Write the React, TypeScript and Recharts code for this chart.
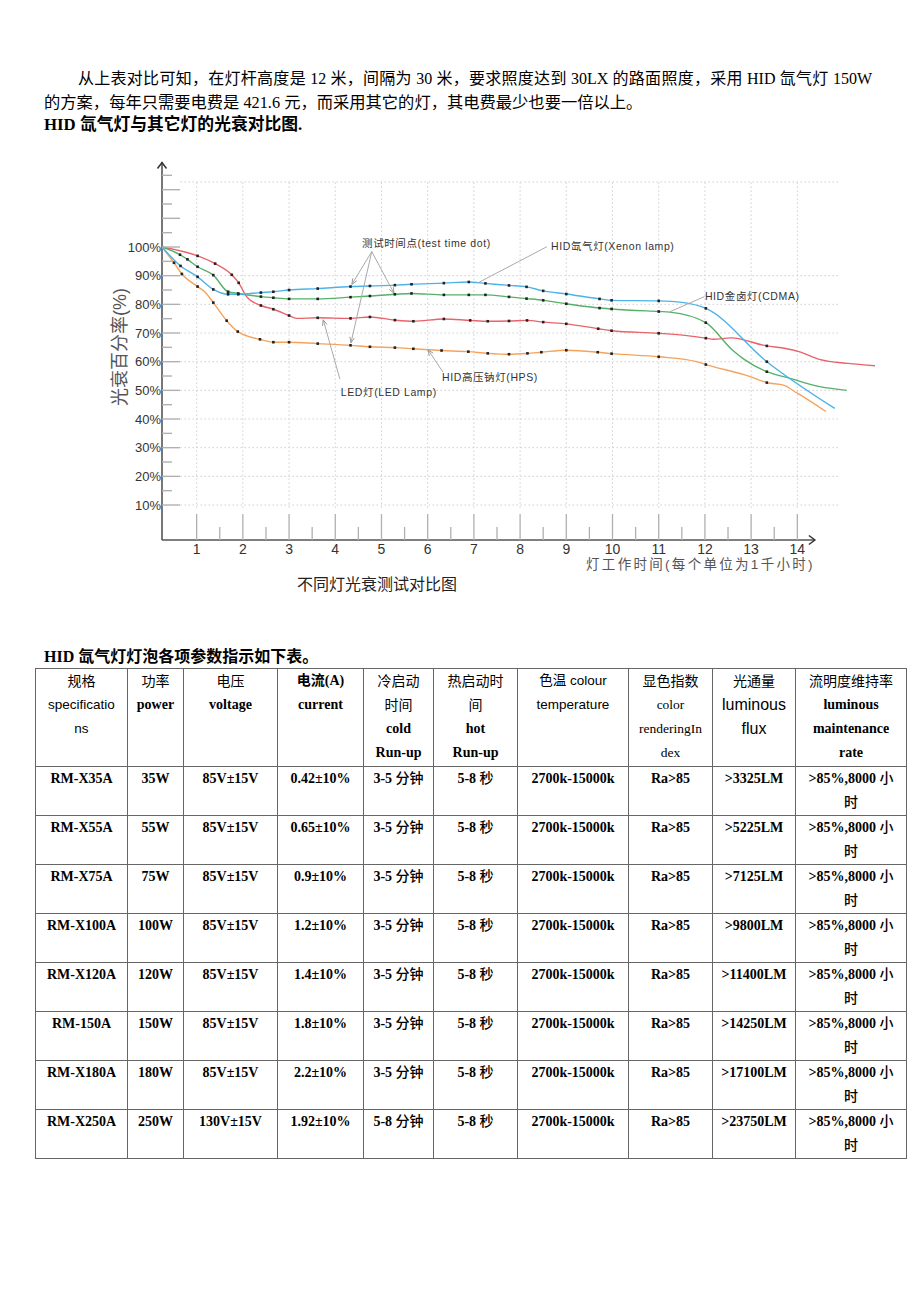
import React from 'react';
import { LineChart, Line, XAxis, YAxis, ReferenceLine, ReferenceDot } from 'recharts';

// [hours (x1000 h), lumen maintenance %, test-time dot 1/0]
const xenonPts = [
  [0.25, 100, 0], [0.65, 93.4, 1], [1.02, 89.6, 1], [1.36, 85.2, 1], [1.68, 83.5, 1], [1.9, 83.5, 1],
  [2.39, 84.1, 1], [2.66, 84.4, 1], [3.0, 85.0, 1], [3.62, 85.5, 1], [4.33, 86.2, 1], [4.75, 86.4, 1],
  [5.29, 86.7, 1], [5.65, 87.0, 1], [6.35, 87.4, 1], [6.89, 87.8, 1], [7.25, 87.3, 1], [7.76, 86.6, 1],
  [8.14, 86.1, 1], [8.5, 84.7, 1], [9.0, 83.6, 1], [9.72, 81.9, 1], [9.98, 81.4, 1], [11.0, 81.2, 1],
  [11.5, 80.7, 0], [12.02, 78.6, 1], [13.34, 60.0, 1], [14.81, 43.7, 0],
];
const cdmaPts = [
  [0.25, 100, 0], [0.64, 97.3, 1], [0.8, 95.7, 1], [1.02, 93.1, 1], [1.36, 90.2, 1], [1.68, 84.4, 1],
  [1.9, 83.8, 1], [2.39, 82.7, 1], [2.66, 82.3, 1], [3.0, 81.9, 1], [3.62, 81.9, 1], [4.33, 82.5, 1],
  [4.75, 82.9, 1], [5.29, 83.5, 1], [5.65, 83.8, 1], [6.35, 83.3, 1], [6.89, 83.3, 1], [7.25, 83.3, 1],
  [7.76, 82.6, 1], [8.14, 82.0, 1], [8.5, 81.4, 1], [9.0, 80.2, 1], [9.72, 78.7, 1], [9.98, 78.4, 1],
  [11.0, 77.5, 1], [11.24, 77.3, 0], [12.02, 73.6, 1], [12.6, 64.0, 0], [12.85, 60.8, 0],
  [13.34, 56.5, 1], [13.84, 54.2, 0], [14.49, 51.3, 0], [15.07, 50.0, 0],
];
const ledPts = [
  [0.25, 100, 0], [1.02, 96.9, 1], [1.4, 94.2, 1], [1.76, 90.3, 1], [1.91, 87.5, 1], [2.08, 82.7, 0],
  [2.39, 79.6, 1], [2.66, 78.3, 1], [3.0, 76.1, 1], [3.16, 75.1, 0], [3.62, 75.3, 1], [4.33, 75.1, 1],
  [4.75, 75.6, 1], [5.29, 74.5, 1], [5.69, 74.1, 1], [6.35, 74.9, 1], [6.92, 74.4, 1], [7.3, 74.1, 1],
  [7.76, 74.2, 1], [8.15, 74.4, 1], [8.5, 73.8, 1], [9.0, 73.2, 1], [9.69, 71.5, 1], [9.98, 70.8, 1],
  [11.0, 69.9, 1], [11.61, 69.1, 0], [12.02, 68.2, 1], [12.18, 67.8, 0], [12.56, 68.3, 0],
  [13.34, 65.5, 1], [13.75, 64.6, 0], [14.05, 63.4, 0], [14.5, 60.7, 0], [15.1, 59.4, 0], [15.68, 58.6, 0],
];
const hpsPts = [
  [0.25, 100, 0], [0.51, 94.5, 1], [0.68, 90.6, 1], [1.02, 86.2, 1], [1.18, 84.3, 0], [1.36, 80.6, 1],
  [1.65, 74.3, 1], [1.89, 70.5, 1], [2.1, 68.9, 0], [2.37, 67.8, 1], [2.66, 66.8, 1], [3.0, 66.8, 1],
  [3.62, 66.3, 1], [4.33, 65.7, 1], [4.75, 65.2, 1], [5.29, 64.9, 1], [5.69, 64.5, 1], [6.3, 63.9, 1],
  [6.88, 63.5, 1], [7.3, 62.9, 1], [7.76, 62.6, 1], [8.16, 62.9, 1], [8.46, 63.3, 1], [9.0, 64.0, 1],
  [9.68, 63.3, 1], [9.98, 62.8, 1], [11.0, 61.7, 1], [11.82, 60.0, 0], [12.02, 59.0, 1],
  [12.98, 54.8, 0], [13.34, 52.7, 1], [13.7, 51.8, 0], [14.0, 49.0, 0], [14.62, 42.6, 0],
];

const xTicks = [1, 1.5, 2, 2.5, 3, 3.5, 4, 4.5, 5, 5.5, 6, 6.5, 7, 7.5, 8, 8.5, 9, 9.5, 10, 10.5, 11, 11.5, 12, 12.5, 13, 13.5, 14];
const yTicks = [10, 15, 20, 25, 30, 35, 40, 45, 50, 55, 60, 65, 70, 75, 80, 85, 90, 95, 100, 105, 110, 115, 120, 125];
const gridPct = [10, 20, 30, 40, 50, 60, 70, 80, 90, 122.7];
const gridHours = [1, 2, 3, 4, 5, 6, 7, 8, 9, 10, 11, 12, 13, 14];

// annotation texts: [text, hours, pct]
const notes: [string, number, number][] = [
  ['测试时间点(test time dot)', 4.58, 101.4],
  ['HID氙气灯(Xenon lamp)', 8.67, 100.4],
  ['HID金卤灯(CDMA)', 12.0, 82.7],
  ['HID高压钠灯(HPS)', 6.31, 54.7],
  ['LED灯(LED Lamp)', 4.12, 49.3],
];
// pointer lines: [h1, p1, h2, p2, arrowhead]
const pointers: [number, number, number, number, number][] = [
  [4.79, 98.4, 4.36, 87.0, 1],
  [4.79, 98.4, 4.34, 66.6, 1],
  [4.79, 98.4, 5.27, 83.9, 1],
  [8.58, 100.1, 7.1, 87.6, 0],
  [11.99, 82.7, 11.24, 77.4, 0],
  [6.33, 56.4, 6.01, 64.1, 1],
  [4.1, 53.9, 3.74, 74.6, 1],
];

const models = ['RM-X35A', 'RM-X55A', 'RM-X75A', 'RM-X100A', 'RM-X120A', 'RM-150A', 'RM-X180A', 'RM-X250A'];
const powers = ['35W', '55W', '75W', '100W', '120W', '150W', '180W', '250W'];
const voltages = ['85V±15V', '85V±15V', '85V±15V', '85V±15V', '85V±15V', '85V±15V', '85V±15V', '130V±15V'];
const currents = ['0.42±10%', '0.65±10%', '0.9±10%', '1.2±10%', '1.4±10%', '1.8±10%', '2.2±10%', '1.92±10%'];
const coldRunUp = ['3-5 分钟', '3-5 分钟', '3-5 分钟', '3-5 分钟', '3-5 分钟', '3-5 分钟', '3-5 分钟', '5-8 分钟'];
const fluxes = ['>3325LM', '>5225LM', '>7125LM', '>9800LM', '>11400LM', '>14250LM', '>17100LM', '>23750LM'];

const SERIF = "'Liberation Serif', 'Times New Roman', 'Noto Sans CJK SC', serif";
const SANS = "'Liberation Sans', Arial, 'Noto Sans CJK SC', sans-serif";

const toRows = (pts: number[][]) => pts.map(([h, p, d]) => ({ h, p, d }));

const colWidths = [92, 56, 94, 86, 70, 84, 111, 84, 83, 111];

const headStyles: Record<string, React.CSSProperties> = {
  cjk: { fontFamily: SANS, fontSize: 14 },
  sans: { fontFamily: SANS, fontSize: 13.5 },
  bold: { fontFamily: SERIF, fontSize: 14, fontWeight: 'bold' },
  serif: { fontFamily: SERIF, fontSize: 13.5 },
  big: { fontFamily: SANS, fontSize: 16 },
};
const headers: [string, string][][] = [
  [['规格', 'cjk'], ['specificatio', 'sans'], ['ns', 'sans']],
  [['功率', 'cjk'], ['power', 'bold']],
  [['电压', 'cjk'], ['voltage', 'bold']],
  [['电流(A)', 'bold'], ['current', 'bold']],
  [['冷启动', 'cjk'], ['时间', 'cjk'], ['cold', 'bold'], ['Run-up', 'bold']],
  [['热启动时', 'cjk'], ['间', 'cjk'], ['hot', 'bold'], ['Run-up', 'bold']],
  [['色温 colour', 'sans'], ['temperature', 'sans']],
  [['显色指数', 'cjk'], ['color', 'serif'], ['renderingIn', 'serif'], ['dex', 'serif']],
  [['光通量', 'cjk'], ['luminous', 'big'], ['flux', 'big']],
  [['流明度维持率', 'cjk'], ['luminous', 'bold'], ['maintenance', 'bold'], ['rate', 'bold']],
];

// CJK characters in the bold data cells are set in a lighter weight
const mixed = (s: string) =>
  s.split(/([\u4e00-\u9fff]+)/).map((part, i) =>
    /[\u4e00-\u9fff]/.test(part) ? (
      <span key={i} style={{ fontWeight: 500 }}>
        {part}
      </span>
    ) : (
      part
    ),
  );

const renderDot = (props: any) => {
  const { cx, cy, payload, index } = props;
  if (!payload.d) return <g key={`n${index}`} />;
  return <rect key={`d${index}`} x={cx - 1.3} y={cy - 1.3} width={2.6} height={2.6} fill="#222" />;
};

const YTick = (props: any) => {
  const { x, y, payload } = props;
  const v = payload.value;
  const major = v % 10 === 0;
  return (
    <g>
      <line x1={x} x2={x + (major ? 18 : 10)} y1={y} y2={y} stroke="#b0b0b0" strokeWidth={1.4} />
      {major && v <= 100 && (
        <text x={x - 1} y={y} dy={4.5} textAnchor="end" fontSize={13} fontFamily={SANS} fill="#333">
          {v}%
        </text>
      )}
    </g>
  );
};

const XTick = (props: any) => {
  const { x, y, payload } = props;
  const v = payload.value;
  const major = Number.isInteger(v);
  return (
    <g>
      <line x1={x} x2={x} y1={y} y2={y - (major ? 26 : 13)} stroke="#b0b0b0" strokeWidth={1.3} />
      {major && (
        <text x={x} y={y + 14} textAnchor="middle" fontSize={14} fontFamily={SANS} fill="#333">
          {v}
        </text>
      )}
    </g>
  );
};

const axisArrow = (dir: 'up' | 'right') => (p: any) => {
  const { x1, y1, x2, y2 } = p;
  const head =
    dir === 'up'
      ? `M${x2 - 4.5},${y2 + 6} L${x2},${y2} L${x2 + 4.5},${y2 + 6}`
      : `M${x2 - 6},${y2 - 4.5} L${x2},${y2} L${x2 - 6},${y2 + 4.5}`;
  return (
    <g>
      <line x1={x1} y1={y1} x2={x2} y2={y2} stroke="#555" strokeWidth={1.6} />
      <path d={head} fill="none" stroke="#333" strokeWidth={1.5} />
    </g>
  );
};

const pointerShape = (arrow: number) => (p: any) => {
  const { x1, y1, x2, y2 } = p;
  const ang = Math.atan2(y2 - y1, x2 - x1);
  const a1 = ang + Math.PI - 0.4;
  const a2 = ang + Math.PI + 0.4;
  const L = 6;
  return (
    <g>
      <line x1={x1} y1={y1} x2={x2} y2={y2} stroke="#aaa" strokeWidth={1} />
      {arrow ? (
        <path
          d={`M${x2 + L * Math.cos(a1)},${y2 + L * Math.sin(a1)} L${x2},${y2} L${x2 + L * Math.cos(a2)},${y2 + L * Math.sin(a2)}`}
          fill="none"
          stroke="#999"
          strokeWidth={1}
        />
      ) : null}
    </g>
  );
};

const textShape = (text: string, opts: any) => (p: any) => (
  <text
    x={p.cx}
    y={p.cy}
    dy="0.35em"
    textAnchor={opts.anchor || 'start'}
    fontSize={opts.size}
    letterSpacing={opts.spacing || 0}
    fontFamily={SANS}
    fill={opts.fill || '#444'}
    transform={opts.rotate ? `rotate(-90 ${p.cx} ${p.cy})` : undefined}
  >
    {text}
  </text>
);

function DecayChart() {
  return (
    <LineChart width={920} height={470} margin={{ top: 21, right: 39.5, bottom: 40, left: 102 }}>
      <XAxis
        type="number"
        dataKey="h"
        domain={[0.25, 15.8]}
        ticks={xTicks}
        interval={0}
        allowDataOverflow
        axisLine={false}
        tickLine={false}
        tickSize={0}
        tickMargin={0}
        height={30}
        tick={<XTick />}
      />
      <YAxis
        type="number"
        dataKey="p"
        domain={[-2.2, 130]}
        ticks={yTicks}
        interval={0}
        allowDataOverflow
        axisLine={false}
        tickLine={false}
        tickSize={0}
        tickMargin={0}
        width={60}
        tick={<YTick />}
      />
      {gridPct.map((g) => (
        <ReferenceLine
          key={`gy${g}`}
          segment={[{ x: 0.65, y: g }, { x: 14.92, y: g }]}
          stroke="#cfcfcf"
          strokeDasharray="1.5 2.5"
          ifOverflow="visible"
        />
      ))}
      {gridHours.map((g) => (
        <ReferenceLine
          key={`gx${g}`}
          segment={[{ x: g, y: 9 }, { x: g, y: 122.7 }]}
          stroke="#cfcfcf"
          strokeDasharray="1.5 2.5"
          ifOverflow="visible"
        />
      ))}
      <ReferenceLine segment={[{ x: 0.25, y: -2.2 }, { x: 14.38, y: -2.2 }]} ifOverflow="visible" shape={axisArrow('right')} />
      <ReferenceLine segment={[{ x: 0.25, y: -2.2 }, { x: 0.25, y: 129.5 }]} ifOverflow="visible" shape={axisArrow('up')} />

      <Line data={toRows(hpsPts)} dataKey="p" type="monotone" stroke="#f5a35c" strokeWidth={1.4} dot={renderDot} activeDot={false} isAnimationActive={false} />
      <Line data={toRows(ledPts)} dataKey="p" type="monotone" stroke="#e9636a" strokeWidth={1.4} dot={renderDot} activeDot={false} isAnimationActive={false} />
      <Line data={toRows(cdmaPts)} dataKey="p" type="monotone" stroke="#55b06a" strokeWidth={1.4} dot={renderDot} activeDot={false} isAnimationActive={false} />
      <Line data={toRows(xenonPts)} dataKey="p" type="monotone" stroke="#4cb3e8" strokeWidth={1.4} dot={renderDot} activeDot={false} isAnimationActive={false} />

      {pointers.map(([h1, p1, h2, p2, a], i) => (
        <ReferenceLine
          key={`pt${i}`}
          segment={[{ x: h1, y: p1 }, { x: h2, y: p2 }]}
          ifOverflow="visible"
          shape={pointerShape(a)}
        />
      ))}
      {notes.map(([t, h, p]) => (
        <ReferenceDot key={t} x={h} y={p} r={0} ifOverflow="visible" shape={textShape(t, { size: 10.5, spacing: 0.6, fill: '#333' })} />
      ))}
      <ReferenceDot
        x={-0.66}
        y={65.1}
        r={0}
        ifOverflow="visible"
        shape={textShape('光衰百分率(%)', { size: 18, anchor: 'middle', fill: '#555', rotate: true })}
      />
      <ReferenceDot
        x={14.38}
        y={-10.6}
        r={0}
        ifOverflow="visible"
        shape={textShape('灯工作时间(每个单位为1千小时)', { size: 13.5, anchor: 'end', fill: '#555', spacing: 2.3 })}
      />
    </LineChart>
  );
}

export default function App() {
  const cell: React.CSSProperties = {
    border: '1px solid #666',
    padding: '0 2px',
    verticalAlign: 'top',
    textAlign: 'center',
    lineHeight: '24px',
  };
  const dataCell: React.CSSProperties = { ...cell, fontFamily: SERIF, fontSize: 14, fontWeight: 'bold', height: 48 };
  return (
    <div
      style={{
        position: 'absolute',
        left: 0,
        top: 0,
        width: 920,
        height: 1302,
        background: '#fff',
        fontFamily: SERIF,
        color: '#000',
        overflow: 'hidden',
      }}
    >
      <div style={{ position: 'absolute', top: 67, left: 78, width: 794, fontSize: 16, lineHeight: '24px', textAlign: 'justify', textAlignLast: 'justify', whiteSpace: 'nowrap' }}>
        从上表对比可知，在灯杆高度是 12 米，间隔为 30 米，要求照度达到 30LX 的路面照度，采用 HID 氙气灯 150W
      </div>
      <div style={{ position: 'absolute', top: 91, left: 44, fontSize: 16.3, lineHeight: '24px', whiteSpace: 'nowrap' }}>
        的方案，每年只需要电费是 421.6 元，而采用其它的灯，其电费最少也要一倍以上。
      </div>
      <div style={{ position: 'absolute', top: 113, left: 44, fontSize: 16.8, lineHeight: '24px', fontWeight: 'bold', whiteSpace: 'nowrap' }}>
        HID 氙气灯与其它灯的光衰对比图.
      </div>

      <div style={{ position: 'absolute', top: 140, left: 0, width: 920, height: 470 }}>
        <DecayChart />
      </div>

      <div style={{ position: 'absolute', top: 573, left: 297, fontSize: 16, lineHeight: '24px', color: '#222', whiteSpace: 'nowrap' }}>
        不同灯光衰测试对比图
      </div>

      <div style={{ position: 'absolute', top: 645, left: 44, fontSize: 16, lineHeight: '24px', fontWeight: 'bold', whiteSpace: 'nowrap' }}>
        HID 氙气灯灯泡各项参数指示如下表。
      </div>

      <table
        style={{
          position: 'absolute',
          top: 668,
          left: 35,
          width: 872,
          borderCollapse: 'collapse',
          tableLayout: 'fixed',
        }}
      >
        <colgroup>
          {colWidths.map((w, i) => (
            <col key={i} style={{ width: w }} />
          ))}
        </colgroup>
        <tbody>
          <tr>
            {headers.map((lines, i) => (
              <td key={i} style={{ ...cell, height: 97 }}>
                {lines.map(([t, s], j) => (
                  <div key={j} style={{ ...headStyles[s], whiteSpace: 'nowrap' }}>
                    {t}
                  </div>
                ))}
              </td>
            ))}
          </tr>
          {models.map((m, i) => (
            <tr key={m}>
              <td style={dataCell}>{m}</td>
              <td style={dataCell}>{powers[i]}</td>
              <td style={dataCell}>{voltages[i]}</td>
              <td style={dataCell}>{currents[i]}</td>
              <td style={dataCell}>{mixed(coldRunUp[i])}</td>
              <td style={dataCell}>{mixed('5-8 秒')}</td>
              <td style={dataCell}>2700k-15000k</td>
              <td style={dataCell}>Ra&gt;85</td>
              <td style={dataCell}>{fluxes[i]}</td>
              <td style={dataCell}>
                {mixed('>85%,8000 小')}
                <br />
                {mixed('时')}
              </td>
            </tr>
          ))}
        </tbody>
      </table>
    </div>
  );
}
